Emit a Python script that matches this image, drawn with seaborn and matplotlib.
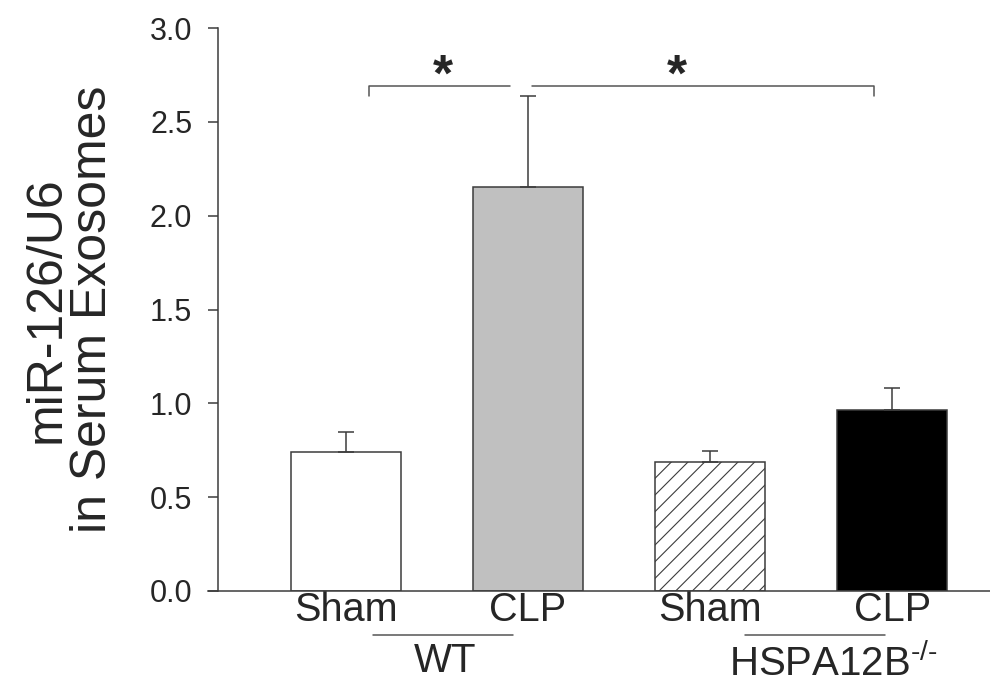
import matplotlib
matplotlib.use("Agg")
import matplotlib.pyplot as plt
import matplotlib.transforms as mtransforms
import seaborn as sns
import pandas as pd

# ---- data ----
groups = ["WT Sham", "WT CLP", "HSPA12B Sham", "HSPA12B CLP"]
tick_labels = ["Sham", "CLP", "Sham", "CLP"]
means = [0.74, 2.155, 0.69, 0.965]
sems = [0.105, 0.48, 0.055, 0.115]
genotype_labels = ["WT", r"HSPA12B$^{\text{-/-}}$"]
y_ticks = [0.0, 0.5, 1.0, 1.5, 2.0, 2.5, 3.0]
ylabel_text = "miR-126/U6\nin Serum Exosomes"

# ---- style ----
sns.set_style("white")
plt.rcParams["font.family"] = ["Liberation Sans", "DejaVu Sans"]
plt.rcParams["mathtext.fontset"] = "custom"
plt.rcParams["mathtext.rm"] = "Liberation Sans"
plt.rcParams["hatch.linewidth"] = 0.8
plt.rcParams["hatch.color"] = "#666666"

bar_colors = ["#ffffff", "#c0c0c0", "#ffffff", "#000000"]
edge = "#3c3c3c"
line_col = "#555555"

df = pd.DataFrame({"group": groups, "value": means})

fig = plt.figure(figsize=(9.9, 6.84), dpi=100)
ax = fig.add_axes([208 / 990, 93 / 684, 782 / 990, 563 / 684])

sns.barplot(data=df, x="group", y="value", hue="group", order=groups,
            hue_order=groups, palette=bar_colors, width=0.6,
            edgecolor=edge, linewidth=1.1, errorbar=None, legend=False,
            saturation=1, ax=ax)

# hatch on HSPA12B sham bar
ax.patches[2].set_hatch("//")
ax.patches[2].set_edgecolor(edge)

# error bars (upper only)
xs = list(range(len(groups)))
ax.errorbar(xs, means, yerr=[[0] * len(sems), sems], fmt="none",
            ecolor=edge, elinewidth=1.1, capsize=5.8, capthick=1.1, zorder=1)

for s in ["top", "right"]:
    ax.spines[s].set_visible(False)
ax.spines["left"].set_position(("data", -0.703))
ax.spines["left"].set_bounds(0, 3.0)
for s in ["left", "bottom"]:
    ax.spines[s].set_color(edge)
    ax.spines[s].set_linewidth(1.1)

ax.set_xlim(-0.758, 3.538)
ax.set_ylim(0, 3.0)
ax.set_yticks(y_ticks)
ax.set_yticklabels([f"{t:.1f}" for t in y_ticks])
ax.set_xticks(xs)
ax.set_xticklabels(tick_labels)
ax.tick_params(axis="y", direction="out", length=7.5, width=1.1, color=edge,
               pad=11, left=True, labelsize=22)
ax.tick_params(axis="x", length=0, pad=0, labelsize=28.5)
ax.set_xlabel("")

ax.set_ylabel(ylabel_text, fontsize=36, linespacing=1.0)
ax.yaxis.set_label_coords(-0.118, 0.5)

# significance brackets
ax.plot([0.126, 0.126, 0.90], [2.64, 2.69, 2.69], color=line_col, lw=1.1,
        clip_on=False)
ax.plot([1.02, 2.90, 2.90], [2.69, 2.69, 2.64], color=line_col, lw=1.1,
        clip_on=False)
ax.text(0.53, 2.665, "*", fontsize=37, fontweight="bold", ha="center",
        va="baseline")
ax.text(1.82, 2.665, "*", fontsize=37, fontweight="bold", ha="center",
        va="baseline")

# genotype group labels below
trans = mtransforms.blended_transform_factory(ax.transData, fig.transFigure)
spans = [(0.148, 0.918), (2.19, 2.96)]
label_x = [0.544, 2.68]
label_y = [0.0175, 0.011]
for (x0, x1), lab, lx, ly in zip(spans, genotype_labels, label_x, label_y):
    ax.plot([x0, x1], [0.0716, 0.0716], color=line_col, lw=1.1,
            transform=trans, clip_on=False)
    ax.text(lx, ly, lab, fontsize=29, ha="center", va="baseline",
            transform=trans)

fig.savefig("out.png", dpi=100)
